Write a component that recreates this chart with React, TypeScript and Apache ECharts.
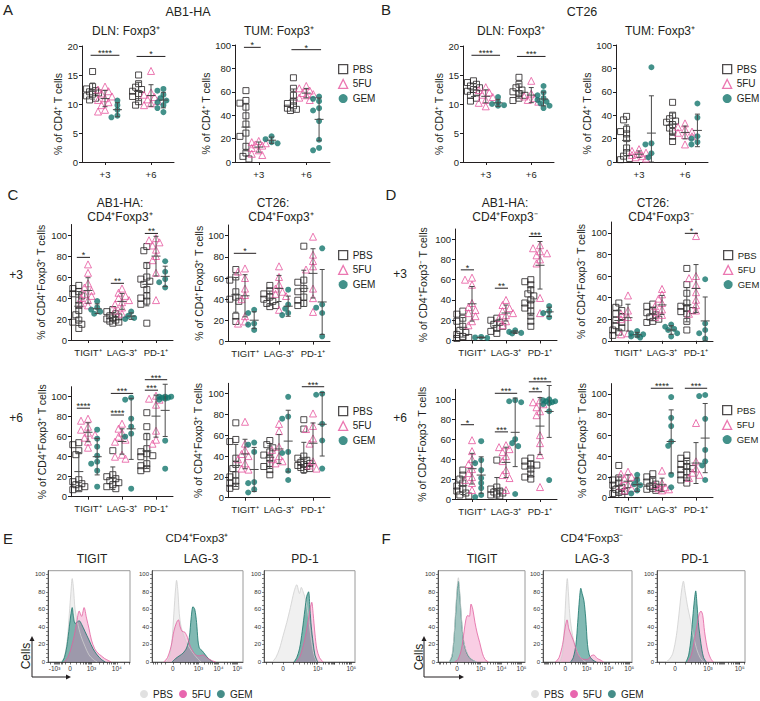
import React, { useEffect, useRef } from "react";
import * as echarts from "echarts";

const FONT = "'Liberation Sans', Arial, Helvetica, sans-serif";
const INK = "#231f20";
const PINK = "#e6559d";
const TEAL = "#14756d";

const GROUPS = ["PBS", "5FU", "GEM"];
const DAY_CATS = ["+3", "+6"];
const MARKER_CATS = ["TIGIT⁺", "LAG-3⁺", "PD-1⁺"];
const PCT_TICKS = [0, 20, 40, 60, 80, 100];

// ---------- A: AB1-HA, % Foxp3+ of CD4+ T cells, [day +3, day +6] ----------
const A_DLN_PBS = [[15.6, 13.0, 12.6, 12.3, 12.1, 11.9, 11.7, 11.4, 11.0, 10.7], [15.0, 13.5, 12.9, 12.5, 12.2, 11.8, 11.3, 10.4, 9.8]];
const A_DLN_5FU = [[13.0, 12.5, 12.2, 11.8, 11.3, 11.0, 10.7, 10.3, 9.8, 9.0, 8.7], [15.7, 12.0, 11.6, 11.2, 10.8, 10.5, 10.1, 9.8]];
const A_DLN_GEM = [[10.6, 9.8, 9.0, 8.0, 7.7], [12.6, 12.3, 11.6, 11.0, 10.6, 10.3, 9.8, 9.3, 8.6]];
const A_DLN_SIG = [[0, 0, 2, 18.4, "****"], [1, 0, 2, 18.2, "*"]];

const A_TUM_PBS = [[61, 52.6, 50.3, 46.9, 39.5, 32.4, 24.7, 21.9, 13.4, 7.7, 4.8, 2.6], [72, 63, 57, 52, 50, 48, 46, 45, 44]];
const A_TUM_5FU = [[18, 17, 16, 15, 14, 12, 10, 7, 6], [65, 63, 61, 59, 58, 57, 55, 53]];
const A_TUM_GEM = [[22, 19.5, 17, 16], [56, 54, 52, 46, 44, 35, 19, 12, 10]];
const A_TUM_SIG = [[0, 0, 1, 98, "*"], [1, 0, 2, 96, "*"]];

// ---------- B: CT26 ----------
const B_DLN_PBS = [[14.0, 13.7, 13.4, 13.1, 12.8, 12.5, 12.2, 11.9, 11.5, 11.0, 10.5], [14.6, 13.4, 12.8, 12.4, 12.1, 11.8, 11.5, 11.0, 10.6]];
const B_DLN_5FU = [[12.9, 12.4, 12.0, 11.6, 11.2, 10.7, 10.2, 9.6], [14.0, 11.8, 11.3, 11.0, 10.7, 10.4]];
const B_DLN_GEM = [[11.2, 10.3, 10.0, 9.8, 9.7], [13.1, 12.0, 11.5, 11.0, 10.7, 10.4, 10.1, 9.7, 9.3]];
const B_DLN_SIG = [[0, 0, 2, 18.4, "****"], [1, 0, 2, 18.2, "***"]];

const B_TUM_PBS = [[39, 36, 28, 26, 24, 20, 12, 8, 5, 3, 2], [51, 40, 37, 35, 34, 32, 29, 26, 22, 17.5]];
const B_TUM_5FU = [[11, 9.5, 8, 7, 6, 5, 4, 3], [33, 30, 28, 26, 25, 23, 22, 15]];
const B_TUM_GEM = [[81, 16, 15, 7.5, 4], [50, 38, 22, 20, 17, 15]];
const B_TUM_SIG: any[] = [];

// ---------- C: CD4+Foxp3+ , [TIGIT, LAG-3, PD-1] ----------
const C_AB1_D3_PBS = [[52, 49, 46, 44, 42, 38, 33, 28, 24, 19, 17, 15, 11], [29, 27, 25, 23, 22, 21, 20, 19, 18, 17, 16], [89, 85, 71, 60, 58, 56, 53, 48, 42, 40, 37, 34, 16]];
const C_AB1_D3_5FU = [[72, 64, 54, 50, 47, 44, 42, 40, 38, 35, 33], [49, 45, 42, 40, 38, 36, 34, 31, 28, 25], [97, 95, 93, 90, 86, 80, 76, 64, 38]];
const C_AB1_D3_GEM = [[37, 31, 29, 27, 25], [27, 23, 21, 20], [75, 65, 58, 55, 50]];
const C_AB1_D3_SIG = [[0, 0, 1, 78.7, "*"], [1, 0, 1, 54, "**"], [2, 0, 1, 101.5, "**"]];

const C_CT26_D3_PBS = [[68, 61, 58, 47, 42, 40, 38, 24, 19], [53, 48, 45, 42, 40, 38, 36, 34, 33], [90, 58, 56, 50, 47, 42, 39, 36, 34]];
const C_CT26_D3_5FU = [[69, 66, 60, 50, 44, 40, 24, 19, 17], [71, 61, 54, 50, 47, 45, 43, 30], [99, 82, 76, 71, 68, 50, 41, 28]];
const C_CT26_D3_GEM = [[30, 27, 17, 16, 11], [49, 35, 31, 27, 25], [88, 35, 32, 27, 5]];
const C_CT26_D3_SIG = [[0, 0, 2, 83.3, "*"]];

const C_AB1_D6_PBS = [[54, 52, 46, 42, 17, 15, 13, 12, 10, 8, 7], [46, 22, 20, 18, 16, 14, 12, 10, 8], [84, 70, 60, 48, 45, 43, 41, 40, 33, 31, 28, 26]];
const C_AB1_D6_5FU = [[78, 76, 70, 67, 64, 62, 59, 55, 49], [73, 68, 64, 60, 57, 55, 42, 40, 38], [101, 98, 97, 92, 66, 57, 53]];
const C_AB1_D6_GEM = [[67, 58, 50, 41, 35, 33, 26, 10], [99, 97, 78, 70, 63, 60, 8], [100, 100, 100, 99, 99, 98, 97, 56, 28]];
const C_AB1_D6_SIG = [[0, 0, 1, 88.5, "****"], [1, 0, 1, 81.7, "****"], [1, 0, 2, 103.3, "***"], [2, 0, 1, 106.5, "***"], [2, 0, 2, 117, "***"]];

const C_CT26_D6_PBS = [[72, 56, 54, 38, 32, 28, 22, 20, 16, 14, 11, 9], [55, 51, 48, 44, 41, 38, 33, 30, 27, 22], [75, 66, 40, 38, 36, 34, 33, 32, 31, 30, 29, 28, 27]];
const C_CT26_D6_5FU = [[73, 52, 46, 42, 40, 37, 33, 28, 27], [71, 64, 49, 46, 40, 37, 35, 33], [81, 69, 66, 57, 52, 35, 31, 28]];
const C_CT26_D6_GEM = [[53, 51, 44, 15, 14, 8, 5], [97, 78, 76, 44, 43, 26, 17], [100, 99, 71, 55, 28]];
const C_CT26_D6_SIG = [[2, 0, 2, 106.7, "***"]];

// ---------- D: CD4+Foxp3- ----------
const D_AB1_D3_PBS = [[29, 26, 22, 19, 14, 10, 8, 6, 4, 3, 2], [22, 20, 18, 16, 14, 12, 9, 7], [60, 58, 55, 50, 46, 44, 40, 37, 35, 32, 29, 24, 19, 14]];
const D_AB1_D3_5FU = [[62, 60, 55, 37, 33, 30, 27, 24, 19, 15], [40, 35, 32, 29, 27, 25, 22, 19, 15], [94, 91, 88, 86, 84, 80, 76, 42, 27]];
const D_AB1_D3_GEM = [[3.5, 3, 2.5], [10, 8.5, 7.5, 7], [34, 29, 27, 23]];
const D_AB1_D3_SIG = [[0, 0, 1, 69.7, "*"], [1, 0, 1, 51.6, "**"], [2, 0, 1, 102.6, "***"]];

const D_CT26_D3_PBS = [[35, 31, 28, 25, 22, 19, 17, 14, 12, 10, 8, 5], [34, 32, 28, 26, 24, 22, 20, 18, 17], [67, 52, 44, 35, 32, 30, 28, 27, 25, 18, 10]];
const D_CT26_D3_5FU = [[42, 28, 25, 22, 20, 7, 6], [48, 43, 39, 35, 32, 29, 27, 24, 22], [97, 60, 58, 52, 45, 38, 33, 28, 25]];
const D_CT26_D3_GEM = [[9, 7, 6, 5, 4, 3], [15, 13, 11, 10, 7, 4], [57, 16, 10, 7, 2]];
const D_CT26_D3_SIG = [[2, 0, 1, 99.5, "*"]];

const D_AB1_D6_PBS = [[29, 24, 20, 16, 13, 10, 8, 6, 4, 3], [39, 12, 10, 8, 7, 6, 5, 4, 3], [41, 38, 35, 34, 33, 30, 25, 22, 20]];
const D_AB1_D6_5FU = [[59, 48, 40, 35, 30, 26, 22, 19, 16, 9], [54, 52, 50, 47, 43, 38, 29, 24, 21, 9], [99, 97, 95, 92, 88, 84, 64, 56, 44, 12]];
const D_AB1_D6_GEM = [[58, 39, 36, 29, 21, 16, 11, 4, 2], [99, 98, 97, 60, 56, 53, 5], [100, 99, 98, 98, 97, 96, 95, 88, 19]];
const D_AB1_D6_SIG = [[0, 0, 1, 74.5, "*"], [1, 0, 1, 67.3, "***"], [1, 0, 2, 106, "***"], [2, 0, 1, 107.5, "**"], [2, 0, 2, 117.5, "****"]];

const D_CT26_D6_PBS = [[31, 19, 17, 14, 12, 10, 8, 6, 5, 4, 3], [23, 20, 17, 15, 13, 11, 10, 9, 8, 7], [41, 38, 35, 32, 30, 28, 27, 25, 22, 19, 17, 14]];
const D_CT26_D6_5FU = [[25, 23, 20, 18, 16, 13, 11, 9, 7], [26, 14, 12, 10, 9, 8, 7], [72, 35, 28, 24, 22, 19]];
const D_CT26_D6_GEM = [[22, 17, 13, 12, 7, 4], [97, 77, 69, 54, 50, 22, 10], [99, 98, 76, 46, 35, 31, 17]];
const D_CT26_D6_SIG = [[1, 0, 2, 105.5, "****"], [2, 0, 2, 105.5, "***"]];

// ---------- E / F: histograms, [x (display units 0-100), % of max] ----------
const E_TICKS_TIGIT = ["-10³", "0", "10³", "10⁴"];
const E_TICKS_LAG3 = ["0", "10³", "10⁴", "10⁵"];
const E_TICKS_PD1 = ["0", "10³", "", "10⁵"];
const F_TICKS_TIGIT = ["0", "10³", "10⁴", "10⁵"];
const F_TICKS_LAG3 = ["0", "10³", "10⁴", "10⁵"];
const F_TICKS_PD1 = ["0", "10³", "", "10⁵"];

const E_TIGIT_PBS = [[15, 0], [18, 2], [21, 10], [24, 30], [26, 55], [28, 80], [29.5, 95], [31, 85], [33, 60], [36, 45], [40, 30], [45, 18], [50, 8], [55, 3], [60, 0]];
const E_TIGIT_5FU = [[20, 0], [24, 5], [28, 15], [32, 30], [35, 45], [38, 58], [41, 52], [44, 62], [47, 50], [50, 38], [53, 25], [57, 15], [61, 10], [65, 7], [69, 4], [73, 2], [77, 0]];
const E_TIGIT_GEM = [[17, 0], [20, 5], [23, 18], [26, 40], [28, 55], [29.5, 62], [31, 52], [33, 44], [35, 45], [38, 47], [41, 43], [45, 35], [50, 25], [55, 15], [60, 8], [65, 3], [70, 0]];

const E_LAG3_PBS = [[16, 0], [19, 5], [22, 25], [24, 55], [26, 85], [27, 93], [28.5, 80], [30, 55], [32, 40], [35, 30], [38, 22], [42, 15], [46, 9], [50, 4], [54, 0]];
const E_LAG3_5FU = [[13, 0], [17, 5], [21, 18], [24, 35], [27, 45], [29, 48], [31, 40], [33, 35], [36, 34], [39, 28], [42, 18], [45, 12], [48, 8], [52, 7], [56, 8], [60, 5], [65, 2], [70, 0]];
const E_LAG3_GEM = [[22, 0], [26, 4], [30, 7], [34, 10], [38, 16], [41, 28], [43, 50], [45, 63], [47, 60], [49, 45], [50.5, 25], [52, 16], [55, 13], [58, 9], [62, 4], [67, 0]];

const E_PD1_PBS = [[9, 0], [13, 5], [17, 15], [21, 30], [25, 45], [29, 62], [33, 80], [36, 88], [39, 78], [41, 85], [43, 80], [46, 70], [49, 50], [52, 25], [55, 8], [58, 0]];
const E_PD1_5FU = [[35, 0], [39, 5], [43, 18], [46, 32], [49, 50], [51, 62], [52.5, 68], [54, 55], [56, 32], [58, 15], [61, 5], [65, 0]];
const E_PD1_GEM = [[33, 0], [36, 5], [39, 15], [42, 35], [45, 60], [47, 75], [49, 80], [50.5, 60], [52, 40], [54, 22], [56, 8], [59, 0]];

const F_TIGIT_PBS = [[13, 0], [16, 8], [18, 25], [20, 55], [22, 85], [23.4, 96], [25, 80], [27, 50], [29, 28], [32, 14], [36, 6], [40, 2], [44, 0]];
const F_TIGIT_5FU = [[19, 0], [23, 3], [27, 15], [30, 35], [32, 48], [34, 53], [36, 52], [38, 66], [40, 60], [42.5, 45], [45, 33], [48, 22], [51, 10], [54, 3], [58, 0]];
const F_TIGIT_GEM = [[13, 0], [16, 6], [18, 22], [20, 50], [22, 80], [23.4, 92], [25, 76], [27, 48], [29, 26], [32, 13], [36, 5], [40, 2], [44, 0]];

const F_LAG3_PBS = [[19, 0], [22, 10], [24, 40], [26, 80], [27.3, 95], [28.5, 80], [30, 55], [32, 38], [35, 22], [39, 10], [43, 4], [48, 0]];
const F_LAG3_5FU = [[14, 0], [18, 5], [22, 20], [25, 40], [27, 48], [29, 38], [32, 30], [35, 22], [38, 12], [42, 5], [46, 3], [50, 3], [54, 7], [57, 8], [61, 4], [65, 2], [68, 0]];
const F_LAG3_GEM = [[31, 0], [34, 5], [37, 20], [39, 45], [41, 72], [42.5, 84], [44, 78], [46, 70], [48, 50], [50, 20], [52, 8], [55, 3], [60, 0]];

const F_PD1_PBS = [[10, 0], [14, 3], [18, 10], [22, 30], [25, 55], [28, 82], [30, 92], [32, 80], [35, 62], [38, 48], [41, 32], [45, 15], [49, 5], [53, 0]];
const F_PD1_5FU = [[35, 0], [39, 8], [43, 28], [46, 45], [48, 55], [50, 58], [52, 53], [54, 35], [56, 22], [58, 12], [61, 4], [64, 0]];
const F_PD1_GEM = [[33, 0], [36, 8], [39, 30], [41, 55], [43, 75], [44, 81], [45.5, 65], [47, 45], [49, 28], [51, 14], [53, 5], [56, 0]];

// ---------- layout ----------
const NAME_AB = "% of CD4⁺ T cells";
const NAME_C = "% of CD4⁺Foxp3⁺ T cells";
const NAME_D = "% of CD4⁺Foxp3⁻ T cells";

const SCATTER_PANELS: any[] = [
  { left: 82, top: 46, width: 92, height: 116, yMax: 20, yInterval: 5, cats: DAY_CATS, yName: NAME_AB, nameGap: 17, namePad: 20, data: [A_DLN_PBS, A_DLN_5FU, A_DLN_GEM], sig: A_DLN_SIG },
  { left: 235, top: 45, width: 95, height: 117, yMax: 100, yInterval: 20, cats: DAY_CATS, yName: NAME_AB, nameGap: 21, namePad: 20, data: [A_TUM_PBS, A_TUM_5FU, A_TUM_GEM], sig: A_TUM_SIG },
  { left: 463, top: 46, width: 91, height: 116, yMax: 20, yInterval: 5, cats: DAY_CATS, yName: NAME_AB, nameGap: 17, namePad: 20, data: [B_DLN_PBS, B_DLN_5FU, B_DLN_GEM], sig: B_DLN_SIG },
  { left: 616, top: 45, width: 92, height: 117, yMax: 100, yInterval: 20, cats: DAY_CATS, yName: NAME_AB, nameGap: 21, namePad: 20, data: [B_TUM_PBS, B_TUM_5FU, B_TUM_GEM], sig: B_TUM_SIG },
  { left: 71, top: 224.5, width: 102, height: 115.5, yMax: 110, cats: MARKER_CATS, yName: NAME_C, nameGap: 25, namePad: 0, data: [C_AB1_D3_PBS, C_AB1_D3_5FU, C_AB1_D3_GEM], sig: C_AB1_D3_SIG },
  { left: 228, top: 225, width: 102, height: 116.6, yMax: 110, cats: MARKER_CATS, yName: NAME_C, nameGap: 24, namePad: 0, data: [C_CT26_D3_PBS, C_CT26_D3_5FU, C_CT26_D3_GEM], sig: C_CT26_D3_SIG },
  { left: 455, top: 229, width: 102, height: 111.5, yMax: 110, cats: MARKER_CATS, yName: NAME_D, nameGap: 27, namePad: 0, data: [D_AB1_D3_PBS, D_AB1_D3_5FU, D_AB1_D3_GEM], sig: D_AB1_D3_SIG },
  { left: 611, top: 222, width: 102, height: 118.8, yMax: 110, cats: MARKER_CATS, yName: NAME_D, nameGap: 25, namePad: 0, data: [D_CT26_D3_PBS, D_CT26_D3_5FU, D_CT26_D3_GEM], sig: D_CT26_D3_SIG },
  { left: 71, top: 386.7, width: 102, height: 110, yMax: 110, cats: MARKER_CATS, yName: NAME_C, nameGap: 24, namePad: 0, data: [C_AB1_D6_PBS, C_AB1_D6_5FU, C_AB1_D6_GEM], sig: C_AB1_D6_SIG },
  { left: 228, top: 383.3, width: 102, height: 114.4, yMax: 110, cats: MARKER_CATS, yName: NAME_C, nameGap: 25, namePad: 0, data: [C_CT26_D6_PBS, C_CT26_D6_5FU, C_CT26_D6_GEM], sig: C_CT26_D6_SIG },
  { left: 455, top: 389.3, width: 102, height: 109.7, yMax: 110, cats: MARKER_CATS, yName: NAME_D, nameGap: 28, namePad: 0, data: [D_AB1_D6_PBS, D_AB1_D6_5FU, D_AB1_D6_GEM], sig: D_AB1_D6_SIG },
  { left: 611, top: 383.6, width: 102, height: 114, yMax: 110, cats: MARKER_CATS, yName: NAME_D, nameGap: 23, namePad: 0, data: [D_CT26_D6_PBS, D_CT26_D6_5FU, D_CT26_D6_GEM], sig: D_CT26_D6_SIG },
];

const HIST_TOP = 570.7;
const HIST_H = 91.3;
const HIST_PANELS: any[] = [
  { left: 48, right: 130, labels: E_TICKS_TIGIT, pos: [8, 27, 53, 84], zeroIdx: 1, curves: [E_TIGIT_PBS, E_TIGIT_5FU, E_TIGIT_GEM], order: [0, 2, 1] },
  { left: 152, right: 243, labels: E_TICKS_LAG3, pos: [23, 51, 73, 94], zeroIdx: 0, curves: [E_LAG3_PBS, E_LAG3_5FU, E_LAG3_GEM], order: [0, 2, 1] },
  { left: 264, right: 355, labels: E_TICKS_PD1, pos: [21, 59, 77.5, 96], zeroIdx: 0, curves: [E_PD1_PBS, E_PD1_5FU, E_PD1_GEM], order: [0, 2, 1] },
  { left: 438, right: 525, labels: F_TICKS_TIGIT, pos: [22, 49, 73, 96], zeroIdx: 0, curves: [F_TIGIT_PBS, F_TIGIT_5FU, F_TIGIT_GEM], order: [2, 0, 1] },
  { left: 543, right: 632, labels: F_TICKS_LAG3, pos: [25, 49, 74, 97], zeroIdx: 0, curves: [F_LAG3_PBS, F_LAG3_5FU, F_LAG3_GEM], order: [0, 2, 1] },
  { left: 657, right: 745, labels: F_TICKS_PD1, pos: [20.5, 58, 76, 94], zeroIdx: 0, curves: [F_PD1_PBS, F_PD1_5FU, F_PD1_GEM], order: [0, 2, 1] },
];

const GROUP_OFFSET = [-0.27, 0, 0.27];
const SYMBOLS: any[] = [
  { symbol: "rect", size: 6, itemStyle: { color: "rgba(255,255,255,0)", borderColor: INK, borderWidth: 1 } },
  { symbol: "triangle", size: 7, itemStyle: { color: "rgba(255,255,255,0)", borderColor: PINK, borderWidth: 1 } },
  { symbol: "circle", size: 6, itemStyle: { color: TEAL, borderWidth: 0 } },
];
const HIST_STYLE: any[] = [
  { line: "#cfcfcf", area: "rgba(215,215,215,0.55)" },
  { line: "#e2619f", area: "rgba(236,100,170,0.45)" },
  { line: "#16736a", area: "rgba(30,130,120,0.8)" },
];

function mean(a: number[]) {
  return a.reduce((s, v) => s + v, 0) / a.length;
}
function sdev(a: number[]) {
  if (a.length < 2) return 0;
  const m = mean(a);
  return Math.sqrt(a.reduce((s, v) => s + (v - m) * (v - m), 0) / (a.length - 1));
}

// deterministic beeswarm layout: returns x offsets (category units)
function swarm(values: number[], pxX: number, pxY: number, size: number) {
  const idx = values.map((_, i) => i).sort((a, b) => values[b] - values[a]);
  const placed: number[][] = [];
  const offs = new Array(values.length).fill(0);
  const step = size * 0.5;
  const cands = [0, -1, 1, -2, 2];
  const minD = size * 0.75;
  for (const i of idx) {
    const py = values[i] * pxY;
    let best = 0;
    let bestD = -1;
    for (const c of cands) {
      const px = c * step;
      let d = Infinity;
      for (const q of placed) d = Math.min(d, Math.hypot(q[0] - px, q[1] - py));
      if (d >= minD) {
        best = px;
        break;
      }
      if (d > bestD) {
        bestD = d;
        best = px;
      }
    }
    placed.push([best, py]);
    offs[i] = best / pxX;
  }
  return offs;
}

function histTicks(pos: number[], zeroIdx: number) {
  const logs = [2, 3, 4, 5, 6, 7, 8, 9].map((k) => Math.log10(k));
  const ext = pos.slice();
  const wUp = pos[pos.length - 1] - pos[pos.length - 2];
  const wDn = pos[1] - pos[0];
  let zero = zeroIdx;
  while (ext[ext.length - 1] < 100) ext.push(ext[ext.length - 1] + wUp);
  while (ext[0] > 0) {
    ext.unshift(ext[0] - wDn);
    zero++;
  }
  const out: number[] = [];
  for (let i = 0; i < ext.length - 1; i++) {
    const a = ext[i];
    const b = ext[i + 1];
    const w = b - a;
    const neg = i + 1 <= zero;
    out.push(a);
    logs.forEach((l) => out.push(neg ? b - w * l : a + w * l));
  }
  out.push(ext[ext.length - 1]);
  return out.filter((v) => v >= 0 && v <= 100).sort((a, b) => a - b);
}

function txt(x: number, y: number, text: string, size: number, extra: any = {}) {
  return {
    type: "text",
    x,
    y,
    silent: true,
    ...extra,
    style: {
      text,
      fontSize: size,
      lineHeight: Math.round(size),
      fontFamily: FONT,
      fill: INK,
      align: "center",
      verticalAlign: "middle",
      textAlign: "center",
      textVerticalAlign: "middle",
    },
  };
}

function buildOption() {
  const grid: any[] = [];
  const xAxis: any[] = [];
  const yAxis: any[] = [];
  const series: any[] = [];

  SCATTER_PANELS.forEach((p) => {
    const gi = grid.length;
    const n = p.cats.length;
    grid.push({ left: p.left, top: p.top, width: p.width, height: p.height });
    const catIdx = p.cats.map((_: any, i: number) => i);
    xAxis.push({
      type: "value",
      gridIndex: gi,
      min: -0.5,
      max: n - 0.5,
      axisLine: { show: true, onZero: false, lineStyle: { color: INK, width: 1 } },
      axisTick: { show: true, length: 3, customValues: catIdx, lineStyle: { color: INK } },
      axisLabel: {
        customValues: catIdx,
        formatter: (v: number) => p.cats[Math.round(v)] ?? "",
        fontSize: 9.5,
        color: INK,
        margin: 7,
        fontFamily: FONT,
      },
      splitLine: { show: false },
    });
    const yAx: any = {
      type: "value",
      gridIndex: gi,
      min: 0,
      max: p.yMax,
      name: p.yName,
      nameLocation: "middle",
      nameRotate: 90,
      nameGap: p.nameGap,
      nameTextStyle: { fontSize: 10.5, color: INK, fontFamily: FONT, padding: [0, p.namePad, 0, 0] },
      axisLine: { show: true, onZero: false, lineStyle: { color: INK, width: 1 } },
      axisTick: { show: true, length: 3, lineStyle: { color: INK } },
      axisLabel: { fontSize: 9.5, color: INK, margin: 4, fontFamily: FONT },
      splitLine: { show: false },
    };
    if (p.yInterval) {
      yAx.interval = p.yInterval;
    } else {
      yAx.axisTick.customValues = PCT_TICKS;
      yAx.axisLabel.customValues = PCT_TICKS;
    }
    yAxis.push(yAx);

    const pxX = p.width / n;
    const pxY = p.height / p.yMax;
    GROUPS.forEach((g, gIdx) => {
      const pts: number[][] = [];
      p.cats.forEach((_: any, ci: number) => {
        const vals: number[] = p.data[gIdx][ci];
        const offs = swarm(vals, pxX, pxY, SYMBOLS[gIdx].size);
        vals.forEach((v, k) => pts.push([ci + GROUP_OFFSET[gIdx] + offs[k], v]));
      });
      series.push({
        type: "scatter",
        name: g,
        xAxisIndex: gi,
        yAxisIndex: gi,
        data: pts,
        symbol: SYMBOLS[gIdx].symbol,
        symbolSize: SYMBOLS[gIdx].size,
        itemStyle: SYMBOLS[gIdx].itemStyle,
        silent: true,
        z: 3,
      });
    });

    // error bars (mean ± SD): data = [x, mean], SD kept in a parallel list
    const ebData: number[][] = [];
    const ebSd: number[] = [];
    GROUPS.forEach((_g, gIdx) =>
      p.cats.forEach((_c: any, ci: number) => {
        const v = p.data[gIdx][ci];
        ebData.push([ci + GROUP_OFFSET[gIdx], mean(v)]);
        ebSd.push(sdev(v));
      })
    );
    series.push({
      type: "custom",
      xAxisIndex: gi,
      yAxisIndex: gi,
      data: ebData,
      silent: true,
      z: 4,
      renderItem: (params: any, api: any) => {
        const [x, m] = ebData[params.dataIndex];
        const s = ebSd[params.dataIndex];
        const c = api.coord([x, m]);
        const t = api.coord([x, m + s]);
        const b = api.coord([x, Math.max(m - s, 0)]);
        const st = { stroke: "#4a4a4a", lineWidth: 1 };
        return {
          type: "group",
          children: [
            { type: "line", shape: { x1: c[0], y1: t[1], x2: c[0], y2: b[1] }, style: st },
            { type: "line", shape: { x1: c[0] - 4.5, y1: c[1], x2: c[0] + 4.5, y2: c[1] }, style: st },
            { type: "line", shape: { x1: c[0] - 2.5, y1: t[1], x2: c[0] + 2.5, y2: t[1] }, style: st },
            { type: "line", shape: { x1: c[0] - 2.5, y1: b[1], x2: c[0] + 2.5, y2: b[1] }, style: st },
          ],
        };
      },
    });

    // significance bars: data = [x mid, y]; ends & labels from the panel's sig list
    if (p.sig.length) {
      const sigData = p.sig.map((s: any[]) => [s[0] + (GROUP_OFFSET[s[1]] + GROUP_OFFSET[s[2]]) / 2, s[3]]);
      series.push({
        type: "custom",
        xAxisIndex: gi,
        yAxisIndex: gi,
        data: sigData,
        silent: true,
        z: 4,
        renderItem: (params: any, api: any) => {
          const s = p.sig[params.dataIndex];
          const a = api.coord([s[0] + GROUP_OFFSET[s[1]], s[3]]);
          const b = api.coord([s[0] + GROUP_OFFSET[s[2]], s[3]]);
          return {
            type: "group",
            children: [
              { type: "line", shape: { x1: a[0] - 2, y1: a[1], x2: b[0] + 2, y2: a[1] }, style: { stroke: INK, lineWidth: 1 } },
              {
                type: "text",
                x: (a[0] + b[0]) / 2,
                y: a[1] + 1,
                style: {
                  text: s[4],
                  fontSize: 9,
                  lineHeight: 6,
                  fontFamily: FONT,
                  fill: INK,
                  align: "center",
                  verticalAlign: "bottom",
                  textAlign: "center",
                  textVerticalAlign: "bottom",
                },
              },
            ],
          };
        },
      });
    }
  });

  HIST_PANELS.forEach((h) => {
    const gi = grid.length;
    grid.push({
      left: h.left,
      top: HIST_TOP,
      width: h.right - h.left,
      height: HIST_H,
      show: true,
      borderColor: "#9a9a9a",
      borderWidth: 1,
      backgroundColor: "rgba(0,0,0,0)",
    });
    const labelPos = h.pos.filter((_: number, i: number) => h.labels[i] !== "");
    xAxis.push({
      type: "value",
      gridIndex: gi,
      min: 0,
      max: 100,
      axisLine: { show: true, onZero: false, lineStyle: { color: "#333", width: 0.8 } },
      axisTick: { show: true, length: 2.5, customValues: histTicks(h.pos, h.zeroIdx), lineStyle: { color: "#333", width: 0.7 } },
      axisLabel: {
        customValues: labelPos,
        formatter: (v: number) => {
          const i = h.pos.findIndex((q: number) => Math.abs(q - v) < 0.01);
          return i >= 0 ? h.labels[i] : "";
        },
        fontSize: 6.5,
        color: "#333",
        margin: 3,
        fontFamily: FONT,
      },
      splitLine: { show: false },
    });
    yAxis.push({
      type: "value",
      gridIndex: gi,
      min: 0,
      max: 104,
      axisLine: { show: true, onZero: false, lineStyle: { color: "#333", width: 0.8 } },
      axisTick: { show: true, length: 2, customValues: [0, 5, 10, 15, 20, 25, 30, 35, 40, 45, 50, 55, 60, 65, 70, 75, 80, 85, 90, 95, 100], lineStyle: { color: "#333", width: 0.6 } },
      axisLabel: { customValues: PCT_TICKS, fontSize: 6, color: "#333", margin: 3, fontFamily: FONT },
      splitLine: { show: false },
    });
    h.order.forEach((gIdx: number) => {
      series.push({
        type: "line",
        name: GROUPS[gIdx],
        xAxisIndex: gi,
        yAxisIndex: gi,
        data: h.curves[gIdx],
        smooth: 0.3,
        symbol: "none",
        silent: true,
        lineStyle: { color: HIST_STYLE[gIdx].line, width: 0.8 },
        areaStyle: { color: HIST_STYLE[gIdx].area, origin: "start" },
        z: 2,
      });
    });
  });

  const scatterLegendData = [
    { name: "PBS", icon: "rect", itemStyle: { color: "rgba(255,255,255,0)", borderColor: INK, borderWidth: 1.3 } },
    { name: "5FU", icon: "triangle", itemStyle: { color: "rgba(255,255,255,0)", borderColor: PINK, borderWidth: 1.3 } },
    { name: "GEM", icon: "circle", itemStyle: { color: TEAL, borderWidth: 0 } },
  ];
  const histLegendData = [
    { name: "PBS", icon: "circle", itemStyle: { color: "#d9d9d9", borderWidth: 0 } },
    { name: "5FU", icon: "circle", itemStyle: { color: "#e2409a", borderWidth: 0 } },
    { name: "GEM", icon: "circle", itemStyle: { color: "#17706a", borderWidth: 0 } },
  ];
  const scatterLegendPos = [
    [338, 64, 10],
    [722, 64, 10],
    [338, 250, 10],
    [338, 406, 10],
    [723, 250, 9.5],
    [722, 405, 9.5],
  ];
  const legend: any[] = scatterLegendPos.map(([l, t, fs]) => ({
    left: l,
    top: t,
    padding: 0,
    orient: "vertical",
    itemWidth: 9,
    itemHeight: 9,
    itemGap: 4.5,
    selectedMode: false,
    data: scatterLegendData,
    textStyle: { fontSize: fs, color: INK, fontFamily: FONT },
  }));
  [140, 531].forEach((l) =>
    legend.push({
      left: l,
      top: 689,
      padding: 0,
      orient: "horizontal",
      itemWidth: 8,
      itemHeight: 8,
      itemGap: 6,
      selectedMode: false,
      data: histLegendData,
      textStyle: { fontSize: 10, color: INK, fontFamily: FONT },
    })
  );

  const graphic: any[] = [
    txt(8, 9, "A", 15),
    txt(386, 9, "B", 15),
    txt(13, 194, "C", 15),
    txt(391, 194, "D", 15),
    txt(8, 538, "E", 15),
    txt(386, 538, "F", 15),
    txt(188, 12, "AB1-HA", 12.5),
    txt(582, 12, "CT26", 12.5),
    txt(126, 31, "DLN: Foxp3⁺", 12),
    txt(279, 31, "TUM: Foxp3⁺", 12),
    txt(511, 31, "DLN: Foxp3⁺", 12),
    txt(660, 31, "TUM: Foxp3⁺", 12),
    txt(120, 203, "AB1-HA:", 12),
    txt(120, 217, "CD4⁺Foxp3⁺", 12),
    txt(273, 203, "CT26:", 12),
    txt(281, 217, "CD4⁺Foxp3⁺", 12),
    txt(505, 203, "AB1-HA:", 12),
    txt(505, 217, "CD4⁺Foxp3⁻", 12),
    txt(653, 203, "CT26:", 12),
    txt(661, 217, "CD4⁺Foxp3⁻", 12),
    txt(16, 275, "+3", 12),
    txt(16, 418, "+6", 12),
    txt(400, 274, "+3", 12),
    txt(400, 418, "+6", 12),
    txt(197, 538, "CD4⁺Foxp3⁺", 11.5),
    txt(592, 538, "CD4⁺Foxp3⁻", 11.5),
    txt(92, 559, "TIGIT", 12),
    txt(201, 559, "LAG-3", 12),
    txt(305, 559, "PD-1", 12),
    txt(482, 559, "TIGIT", 12),
    txt(592, 559, "LAG-3", 12),
    txt(695, 559, "PD-1", 12),
    txt(26, 656, "Cells", 12, { rotation: Math.PI / 2 }),
    txt(419, 657, "Cells", 12, { rotation: Math.PI / 2 }),
  ];
  [
    [32, 70],
    [424, 463],
  ].forEach(([x0, x1]) => {
    graphic.push({ type: "line", silent: true, shape: { x1: x0, y1: 677, x2: x0, y2: 640 }, style: { stroke: INK, lineWidth: 1 } });
    graphic.push({ type: "line", silent: true, shape: { x1: x0, y1: 677, x2: x1 - 2, y2: 677 }, style: { stroke: INK, lineWidth: 1 } });
    graphic.push({ type: "polygon", silent: true, shape: { points: [[x0 - 2.5, 641], [x0 + 2.5, 641], [x0, 636]] }, style: { fill: INK } });
    graphic.push({ type: "polygon", silent: true, shape: { points: [[x1 - 4, 674.5], [x1 - 4, 679.5], [x1 + 1, 677]] }, style: { fill: INK } });
  });

  return {
    animation: false,
    backgroundColor: "#ffffff",
    textStyle: { fontFamily: FONT },
    grid,
    xAxis,
    yAxis,
    series,
    legend,
    graphic,
  };
}

export default function App() {
  const ref = useRef<HTMLDivElement>(null);
  useEffect(() => {
    if (!ref.current) return;
    const chart = echarts.init(ref.current, undefined, { renderer: "svg", width: 760, height: 701 });
    chart.setOption(buildOption() as any);
    return () => chart.dispose();
  }, []);
  return (
    <div
      ref={ref}
      style={{ position: "fixed", left: 0, top: 0, width: 760, height: 701, background: "#fff" }}
    />
  );
}
